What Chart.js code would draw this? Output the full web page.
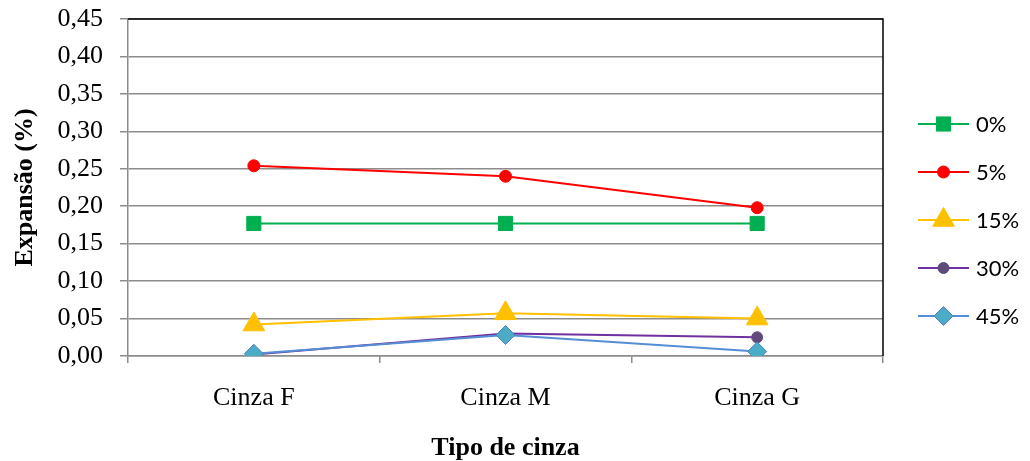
<!DOCTYPE html>
<html>
<head>
<meta charset="utf-8">
<script src="https://cdn.jsdelivr.net/npm/chart.js@4/dist/chart.umd.min.js"></script>
<style>
  html, body { margin: 0; padding: 0; background: #fff; }
  #wrap { width: 1030px; height: 461px; }
</style>
</head>
<body>
<div id="wrap"><canvas id="c" width="1030" height="461"></canvas></div>
<script>
// data
const categories = ['Cinza F', 'Cinza M', 'Cinza G'];
const seriesNames = ['0%', '5%', '15%', '30%', '45%'];
const vals0 = [0.177, 0.177, 0.177];
const vals5 = [0.254, 0.240, 0.198];
const vals15 = [0.042, 0.057, 0.050];
const vals30 = [0.002, 0.030, 0.025];
const vals45 = [0.003, 0.028, 0.006];

const lineColors = ['#00B050', '#FF0000', '#FFC000', '#7030A0', '#558ED5'];
const markFill = ['#00B050', '#FF0000', '#FFC000', '#604A7B', '#4BACC6'];
const markEdge = ['#00B050', '#FF0000', '#FFC000', '#604A7B', '#4F81BD'];
const markStyle = ['rect', 'circle', 'triangle', 'circle', 'rectRot'];
const markSize = [10, 6, 12.5, 5.5, 9.5];

const allVals = [vals0, vals5, vals15, vals30, vals45];
const GRID = '#8c8c8c';

const datasets = allVals.map((v, i) => ({
    label: seriesNames[i],
    data: v,
    borderColor: lineColors[i],
    borderWidth: 2,
    backgroundColor: markFill[i],
    pointBackgroundColor: markFill[i],
    pointBorderColor: markEdge[i],
    pointBorderWidth: 1,
    pointStyle: markStyle[i],
    pointRadius: markSize[i],
    tension: 0,
    order: 5 - i
}));

// top and right black frame of the plot
const framePlugin = {
    id: 'frame',
    afterDatasetsDraw(chart) {
        const a = chart.chartArea, ctx = chart.ctx;
        ctx.save();
        ctx.strokeStyle = '#000';
        ctx.lineWidth = 1.5;
        ctx.beginPath();
        ctx.moveTo(a.left, a.top);
        ctx.lineTo(a.right, a.top);
        ctx.lineTo(a.right, a.bottom);
        ctx.stroke();
        ctx.restore();
    }
};

// legend with line through the marker, like the office chart
const legendPlugin = {
    id: 'sideLegend',
    afterDraw(chart) {
        const ctx = chart.ctx;
        const x0 = 918, x1 = 969, y0 = 124, gap = 48;
        ctx.save();
        chart.data.datasets.forEach((ds, i) => {
            const y = y0 + i * gap;
            ctx.strokeStyle = ds.borderColor;
            ctx.lineWidth = 2;
            ctx.beginPath();
            ctx.moveTo(x0, y);
            ctx.lineTo(x1, y);
            ctx.stroke();
            ctx.fillStyle = ds.pointBackgroundColor;
            ctx.strokeStyle = ds.pointBorderColor;
            ctx.lineWidth = 1;
            Chart.helpers.drawPoint(ctx, {
                pointStyle: ds.pointStyle,
                radius: ds.pointRadius,
                rotation: 0,
                borderWidth: 1
            }, (x0 + x1) / 2, y);
            ctx.fillStyle = '#000';
            ctx.font = '22px Lato';
            ctx.textBaseline = 'middle';
            ctx.textAlign = 'left';
            ctx.fillText(ds.label, 976, y + 1);
        });
        ctx.restore();
    }
};

new Chart(document.getElementById('c'), {
    type: 'line',
    data: { labels: categories, datasets: datasets },
    options: {
        responsive: false,
        animation: false,
        devicePixelRatio: 1,
        layout: { padding: { top: 19, right: 147, left: 0, bottom: 0 } },
        plugins: {
            legend: { display: false },
            tooltip: { enabled: false }
        },
        scales: {
            x: {
                offset: true,
                grid: {
                    offset: true,
                    drawOnChartArea: false,
                    drawTicks: true,
                    tickLength: 7,
                    color: GRID,
                    lineWidth: 1.5
                },
                border: { display: true, color: GRID, width: 1.5 },
                ticks: {
                    color: '#000',
                    padding: 20,
                    maxRotation: 0,
                    font: { family: 'Liberation Serif', size: 26 }
                },
                title: {
                    display: true,
                    text: 'Tipo de cinza',
                    color: '#000',
                    padding: { top: 0, bottom: -3 },
                    font: { family: 'Liberation Serif', size: 26, weight: 'bold' }
                },
                afterFit(scale) {
                    scale.height = 105;
                    scale.paddingLeft = 0;
                    scale.paddingRight = 0;
                }
            },
            y: {
                min: 0,
                max: 0.45,
                grid: {
                    color: GRID,
                    lineWidth: 1.5,
                    drawTicks: true,
                    tickLength: 8
                },
                border: { display: true, color: GRID, width: 1.5 },
                ticks: {
                    stepSize: 0.05,
                    color: '#000',
                    padding: 17,
                    font: { family: 'Liberation Serif', size: 26 },
                    callback: (v) => Number(v).toFixed(2).replace('.', ',')
                },
                title: {
                    display: true,
                    text: 'Expansão (%)',
                    color: '#000',
                    padding: { top: 10, bottom: 0 },
                    font: { family: 'Liberation Serif', size: 26, weight: 'bold' }
                },
                afterFit(scale) {
                    scale.width = 128;
                    scale.paddingTop = 0;
                    scale.paddingBottom = 0;
                }
            }
        }
    },
    plugins: [framePlugin, legendPlugin]
});
</script>
</body>
</html>
